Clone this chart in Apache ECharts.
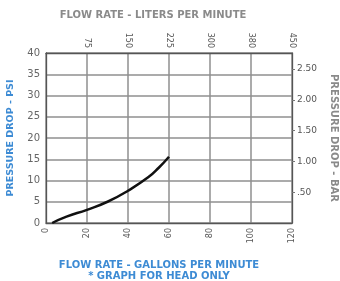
<!DOCTYPE html>
<html>
<head>
<meta charset="utf-8">
<script src="https://cdn.jsdelivr.net/npm/echarts@6/dist/echarts.min.js"></script>
<style>
  html, body { margin: 0; padding: 0; background: #fff; }
  #chart { width: 340px; height: 281px; }
</style>
</head>
<body>
<div id="chart"></div>
<script>
// flow (gpm) vs pressure drop (psi)
let gpm = [3, 10, 20, 30, 40, 50, 55, 60]
let psi = [0, 1.5, 3.1, 5.0, 7.6, 10.8, 13.0, 15.6]
let literTicks = ['75', '150', '225', '300', '380', '450']
let barTicks = ['.50', '1.00', '1.50', '2.00', '2.50']
let psiPerBar = 14.5

var myChart = echarts.init(document.getElementById('chart'))

let font = 'DejaVu Sans'
let blue = '#3d8bd4'
let grey = '#8a8a8a'

let points = gpm.map((g, i) => [g, psi[i]])

myChart.setOption({
  animation: false,
  textStyle: { fontFamily: font },
  title: [
    {
      text: 'FLOW RATE - LITERS PER MINUTE',
      left: 153, top: 10, textAlign: 'center', padding: 0,
      textStyle: { fontSize: 10, fontWeight: 'bold', color: grey, fontFamily: font }
    },
    {
      text: 'FLOW RATE - GALLONS PER MINUTE',
      left: 159, top: 260, textAlign: 'center', padding: 0,
      textStyle: { fontSize: 10, fontWeight: 'bold', color: blue, fontFamily: font }
    },
    {
      text: '* GRAPH FOR HEAD ONLY',
      left: 159, top: 271, textAlign: 'center', padding: 0,
      textStyle: { fontSize: 10, fontWeight: 'bold', color: blue, fontFamily: font }
    }
  ],
  grid: { left: 46, right: 48, top: 53, bottom: 58, outerBoundsMode: 'none' },
  xAxis: [
    {
      type: 'value', position: 'bottom', min: 0, max: 120, interval: 20,
      axisLine: { lineStyle: { color: '#555', width: 1.3 } },
      axisTick: { show: false },
      axisLabel: { rotate: 90, fontSize: 8, color: '#555', margin: 5 },
      splitLine: { show: true, lineStyle: { color: '#8f8f8f', width: 1.5 } }
    },
    {
      type: 'value', position: 'top', min: 0, max: 120, interval: 20,
      axisLine: { onZero: false, lineStyle: { color: '#555', width: 1.3 } },
      axisTick: { show: false },
      axisLabel: {
        rotate: 90, fontSize: 8, color: '#555', margin: 5, showMinLabel: false,
        formatter: v => literTicks[v / 20 - 1] || ''
      },
      splitLine: { show: false }
    }
  ],
  yAxis: [
    {
      type: 'value', position: 'left', min: 0, max: 40, interval: 5,
      name: 'PRESSURE DROP - PSI', nameLocation: 'middle', nameRotate: 90, nameGap: 30,
      nameTextStyle: { fontSize: 9.5, fontWeight: 'bold', color: blue },
      axisLine: { show: true, lineStyle: { color: '#555', width: 1.3 } },
      axisTick: { show: false },
      axisLabel: { fontSize: 10, color: '#666', margin: 6 },
      splitLine: { show: true, lineStyle: { color: '#8f8f8f', width: 1.5 } }
    },
    {
      type: 'value', position: 'right', min: 0, max: 40 / psiPerBar, interval: 0.5,
      name: 'PRESSURE DROP - BAR', nameLocation: 'middle', nameRotate: -90, nameGap: 37,
      nameTextStyle: { fontSize: 10, fontWeight: 'bold', color: grey },
      axisLine: { show: true, onZero: false, lineStyle: { color: '#555', width: 1.3 } },
      axisTick: { show: true, length: 3, lineStyle: { color: '#777' } },
      axisLabel: {
        fontSize: 9, color: '#555', margin: 5, showMinLabel: false, showMaxLabel: false,
        formatter: v => barTicks[Math.round(v * 2) - 1] || ''
      },
      splitLine: { show: false }
    }
  ],
  series: [
    {
      type: 'line', data: points, smooth: true, showSymbol: false,
      xAxisIndex: 0, yAxisIndex: 0,
      lineStyle: { color: '#111', width: 2.5 }
    }
  ]
})
</script>
</body>
</html>
